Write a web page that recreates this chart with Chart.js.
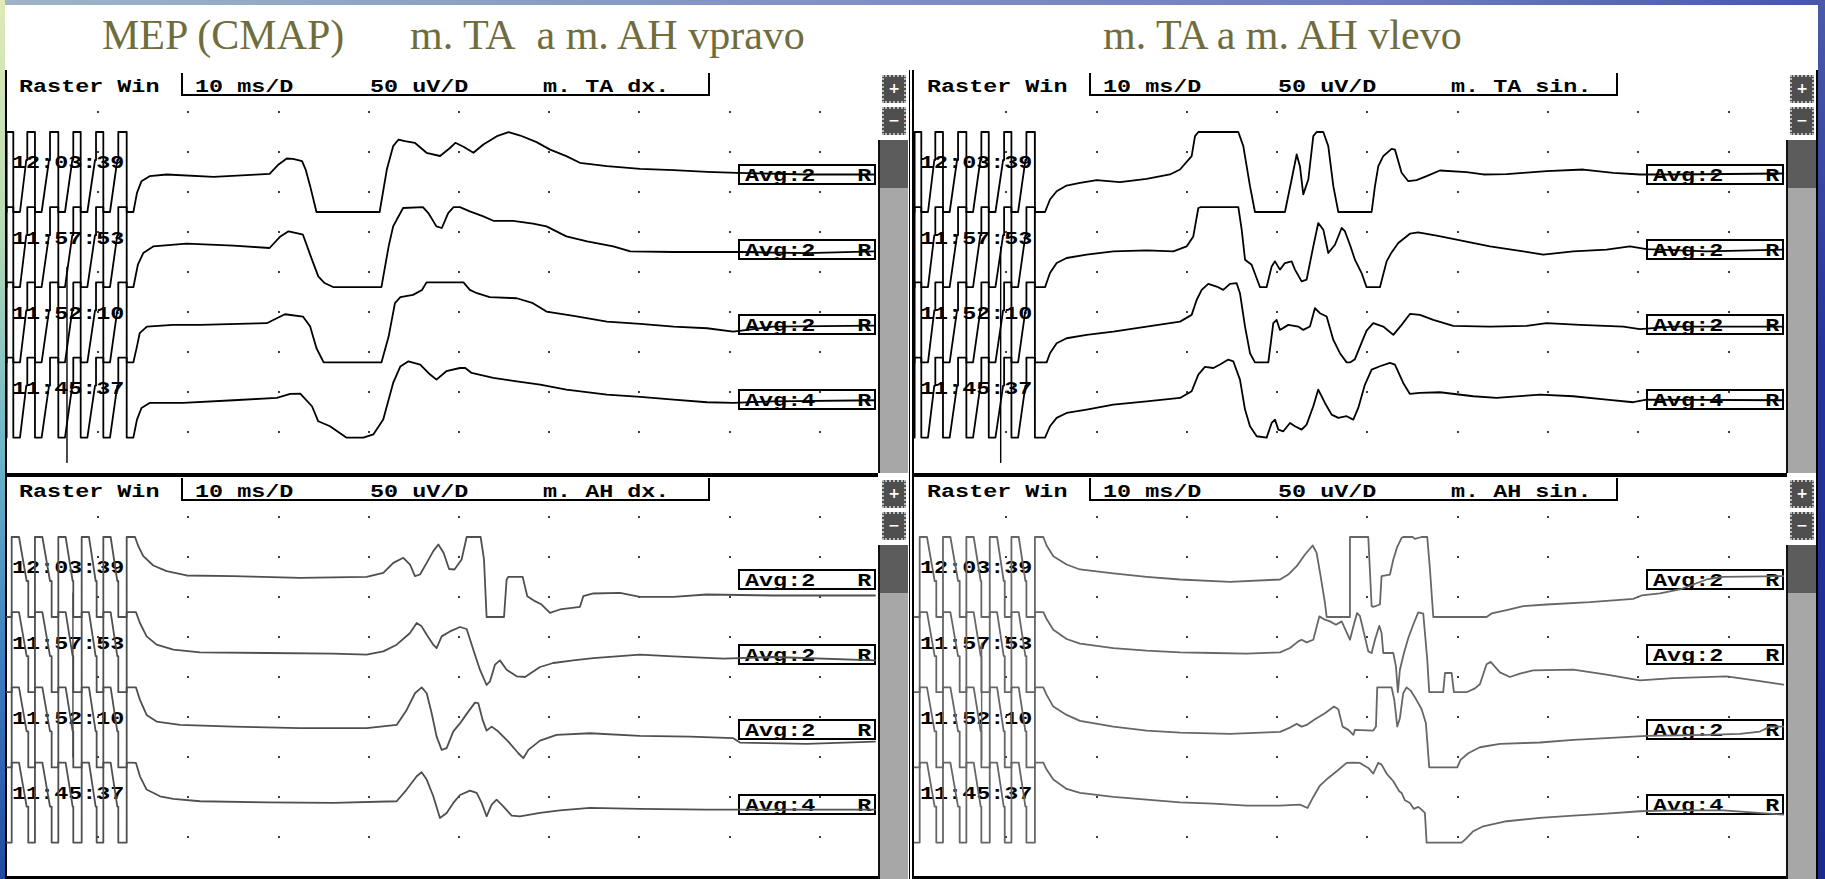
<!DOCTYPE html>
<html>
<head>
<meta charset="utf-8">
<title>MEP (CMAP) m. TA a m. AH</title>
<script src="https://cdn.jsdelivr.net/npm/chart.js@4.4.1/dist/chart.umd.min.js"></script>
<style>
  html, body { margin: 0; padding: 0; }
  body { width: 1825px; height: 879px; overflow: hidden; position: relative; background: #fff; }
  .abs { position: absolute; }
  .band-top { left: 0; top: 0; width: 1825px; height: 5px;
    background: linear-gradient(90deg, #9fb4c8 0%, #8394c4 40%, #6f7fbf 75%, #4657a8 100%); }
  .band-left { left: 0; top: 0; width: 5px; height: 879px;
    background: linear-gradient(180deg, #dfeab8 0%, #b9dcb4 25%, #6fb8c8 50%, #3d7fc0 75%, #1f4aa0 100%); }
  .band-right { left: 1818px; top: 0; width: 7px; height: 879px;
    background: linear-gradient(180deg, #4b5aa8 0%, #26339a 40%, #1c2a8e 100%); }
  .title { font-family: "Liberation Serif", "Times New Roman", serif; font-size: 42px; line-height: 42px;
    color: #6f6d3d; white-space: pre; }
  .mono { font-family: "Liberation Mono", "DejaVu Sans Mono", monospace; font-weight: bold; font-size: 18px;
    line-height: 18px; color: #000; white-space: pre; transform: scaleX(1.3); transform-origin: 0 0; }
  .hbox { box-sizing: border-box; border-left: 2px solid #000; border-right: 2px solid #000; border-bottom: 2px solid #000; }
  .avg { box-sizing: border-box; border: 2px solid #000; }
  .rule { background: #000; }
  .trough { box-sizing: border-box; background: #a7a7a7; border-left: 2px solid #111; }
  .thumb { background: #5c5c5c; }
  .btn { box-sizing: border-box; background: #4e4e4e; border: 2px dotted #b8b8b8; color: #fff;
    font-family: "DejaVu Sans", sans-serif; font-weight: bold; font-size: 14px; line-height: 22px; text-align: center; }
  canvas { position: absolute; }
</style>
</head>
<body>
<div class="abs band-top"></div>
<div class="abs band-left"></div>
<div class="abs band-right"></div>
<div id="stage"></div>

<script>
// ---- sweep settings and labels ----
const gridMs = [10, 20, 30, 40, 50, 60, 70, 80, 90];           // 10 ms per division
const gridUv = [50, 100, 150, 200, 250, 300, 350, 400, 450];   // 50 uV per division
const traceOffsets = [375, 281, 187, 93];                      // raster baseline of each sweep (uV)
const timestamps = ['12:03:39', '11:57:53', '11:52:10', '11:45:37'];
const averages = ['Avg:2   R', 'Avg:2   R', 'Avg:2   R', 'Avg:4   R'];
const sweepLabels = ['10 ms/D', '50 uV/D'];
const channels = ['m. TA dx.', 'm. TA sin.', 'm. AH dx.', 'm. AH sin.'];

// ---- stimulus artefact (ms, uV relative to sweep baseline) ----
const artifactTA = [[-0.22,-50],[-0.15,-50],[-0.15,50],[0.59,50],[0.59,-50],[1.33,-50],[2.03,15],[2.14,15],[2.14,50],[2.99,50],[2.99,-50],
  [3.73,-50],[4.55,15],[4.66,15],[4.66,50],[5.58,50],[5.58,-50],[6.32,-50],[7.13,15],[7.24,15],[7.24,50],[8.06,50],[8.06,-50],
  [8.8,-50],[9.65,15],[9.76,15],[9.76,50],[10.57,50],[10.57,-50],[11.31,-50],[12.12,15],[12.23,15],[12.23,50],[13.16,50],[13.16,-50]];
const artifactAH = [[-0.15,-50],[0.41,-50],[0.41,50],[1.22,50],[2.07,-5],[2.25,-5],[2.25,-50],[2.99,-50],[2.99,50],[3.81,50],[4.66,-5],
  [4.84,-5],[4.84,-50],[5.58,-50],[5.58,50],[6.39,50],[7.17,-5],[7.24,-5],[7.24,-50],[8.17,-50],[8.17,50],[8.98,50],[9.72,-5],[9.83,-5],
  [9.83,-50],[10.57,-50],[10.57,50],[11.38,50],[12.12,-5],[12.23,-5],[12.23,-50],[13.16,-50],[13.16,50]];

// ---- m. TA dx. responses ----
const taDx1 = [[13.34,-50],[13.9,-50],[14.3,-26],[14.8,-11.5],[15.7,-5.2],[17.6,-3.1],[22.8,-6],[29.0,-2.3],[30.0,9.4],[30.9,16.9],[31.6,16.5],
  [32.6,13.5],[33.0,3],[33.5,-17.7],[34.2,-50],[41.2,-50],[42.0,3],[42.7,32.3],[43.3,40.6],[44.0,38.5],[45.1,36.5],[46.4,24],[47.9,20],
  [49.0,30],[49.6,36.5],[50.5,31.5],[51.6,24],[52.7,34.4],[54.2,44.8],[55.5,49.8],[56.8,45.6],[58.6,37.3],[60.1,28],[61.9,19.8],[63.4,11.5],
  [66.4,7.3],[70.1,4],[73.8,2.3],[77.5,0.2],[80.8,-1],[88.5,-3.1],[96.1,-3.1]];
const taDx2 = [[13.34,-50],[13.9,-50],[14.4,-21.9],[15.0,-7.3],[16.1,1],[19.8,4.4],[25.0,1.9],[29.0,-1],[30.2,13.5],[31.1,19.8],[32.0,17.7],
  [32.7,15.6],[33.7,-15.6],[34.4,-36.5],[35.1,-44.8],[36.1,-50],[41.4,-50],[42.2,1],[42.7,26],[43.8,49],[46.0,50],[46.6,42.7],[47.5,26],
  [48.1,24],[48.8,42.7],[49.4,50],[50.1,50],[51.2,44.8],[52.7,38.5],[53.8,33],[56.0,33],[58.2,29.4],[59.7,26],[61.9,13.5],[64.2,7.3],
  [67.1,1],[69.0,-5.2],[73.8,-6],[81.2,-6],[88.5,-7.3],[96.1,-5.2]];
const taDx3 = [[13.34,-50],[13.9,-50],[14.3,-30],[14.6,-13.5],[15.4,-5.2],[18.3,-3.1],[21.3,-3.1],[28.7,-1],[29.8,5.2],[30.7,10.2],[32.7,7.3],
  [33.5,-5.2],[34.2,-32.3],[35.0,-50],[41.4,-50],[42.2,-17.7],[42.9,24],[43.5,31.5],[44.9,34.4],[45.9,40.6],[46.4,50],[50.5,50],[51.2,40.6],
  [52.0,36.5],[53.4,31.5],[56.4,30.2],[58.2,24],[59.7,13.5],[62.7,8.1],[66.4,1],[70.1,-1.9],[73.8,-5.2],[77.5,-7.3],[80.4,-11.5],
  [84.8,-5.2],[96.1,-4]];
const taDx4 = [[13.34,-50],[13.9,-50],[14.3,-27.5],[14.8,-13],[15.7,-6.7],[19.4,-6.7],[25.0,-3.3],[29.8,-0.4],[31.3,4.6],[32.4,5],[33.7,-10.8],
  [34.4,-29.6],[35.7,-35.8],[37.5,-50],[39.4,-50],[40.5,-46],[41.6,-27.5],[42.7,18.3],[43.5,39],[44.4,45.4],[45.7,41.3],[46.8,28.8],
  [47.5,22.5],[48.6,33],[50.1,37],[50.7,37],[51.4,30.8],[53.8,24.6],[56.4,20.4],[59.0,16.3],[61.9,10],[66.4,3.7],[70.1,0.8],[73.8,-2.5],
  [77.5,-5.8],[80.4,-6.7],[84.8,-4.6],[96.1,-3.3]];

// ---- m. TA sin. responses ----
const taSin1 = [[13.18,-50],[14.29,-50],[14.84,-34.4],[15.58,-24],[16.68,-16.9],[18.16,-13.5],[20.01,-10.2],[22.59,-12.7],[25.54,-8.5],
  [28.13,-3.1],[29.24,3.1],[30.53,19.8],[30.9,44.8],[31.27,50],[35.7,50],[36.25,32.3],[36.99,-17.7],[37.54,-50],[40.86,-50],[41.6,-9.4],
  [42.16,21.9],[42.52,7.3],[42.89,-28],[43.45,-9.4],[44.0,44.8],[44.37,50],[45.11,50],[45.66,32.3],[46.22,-17.7],[46.77,-50],[50.46,-50],
  [50.83,-17.7],[51.2,7.3],[51.75,19.8],[52.67,29],[53.04,28],[53.78,-1],[54.52,-11.5],[55.44,-10.2],[56.55,-5.2],[58.02,1.9],[60.98,-0.2],
  [62.82,-3.1],[65.41,-2.7],[69.84,1],[73.9,3.1],[77.22,-1],[80.17,-3.1],[83.87,-3.1],[96.05,-1.9]];
const taSin2 = [[13.18,-50],[14.29,-50],[14.84,-32.3],[15.58,-19.8],[16.68,-13.5],[18.9,-9.4],[21.85,-5.2],[25.54,-4],[28.5,-5.2],
  [29.97,1],[30.71,13.5],[31.27,49],[31.52,50],[35.7,50],[36.07,21.9],[36.44,-15.6],[37.17,-21.9],[38.1,-50],[38.83,-50],[39.39,-24],
  [39.76,-17.7],[40.31,-28],[40.86,-19.8],[41.6,-17.7],[41.97,-28],[42.71,-42.7],[43.26,-40.6],[44.0,1],[44.55,30.2],[45.11,21.9],
  [45.66,-7.3],[46.4,3.1],[47.14,24],[47.5,20],[48.06,3.1],[48.61,-15.6],[49.35,-32.3],[49.9,-50],[51.38,-50],[52.12,-17.7],[52.67,-6.5],
  [53.41,5.2],[54.7,16.9],[55.62,18.5],[57.66,14.4],[59.87,9.4],[63.56,1],[67.25,-5.2],[69.47,-9.4],[72.79,-5.2],[76.48,-3.1],[79.06,1],
  [80.91,-2.3],[87.56,-5.2],[96.05,-3.1]];
const taSin3 = [[13.18,-50],[14.47,-50],[14.84,-38.5],[15.58,-26],[16.68,-19.8],[18.9,-15.6],[21.85,-11.5],[25.54,-5.2],[29.24,1],
  [30.53,9.4],[31.08,28],[31.64,40.6],[32.37,48.1],[33.3,44.8],[34.03,40.6],[34.77,48.1],[35.51,49],[35.88,36.5],[36.44,-5.2],[36.99,-38.5],
  [37.54,-50],[39.02,-50],[39.57,-1],[39.94,3.1],[40.31,-9.4],[41.23,-3.1],[42.34,-5.2],[42.89,-9.4],[43.63,-5.2],[44.18,17.7],[44.74,11.5],
  [45.48,7.3],[46.22,-21.9],[46.95,-38.5],[47.69,-50],[48.06,-50],[48.61,-46],[49.17,-30.2],[49.9,-10.2],[50.64,-1],[51.75,-5.2],
  [52.86,-15.6],[53.78,-3.1],[54.7,10.6],[55.81,9.4],[57.29,3.1],[59.5,-4.4],[63.56,-5.2],[67.62,-4.4],[69.84,-1],[73.53,-3.1],
  [78.33,-5.2],[80.17,-8.5],[83.87,-5.2],[96.05,-5.2]];
const taSin4 = [[13.18,-50],[14.29,-50],[14.84,-35.8],[15.58,-25.4],[16.68,-19.2],[18.9,-15],[21.85,-8.8],[25.54,-4.6],[29.24,-0.4],
  [30.53,7.9],[31.27,28.8],[32.0,38.3],[32.93,37],[33.67,41.3],[34.59,47.5],[35.14,45.4],[35.88,22.5],[36.44,-15],[36.99,-35.8],
  [37.73,-48.3],[38.83,-50],[39.39,-31.7],[39.76,-27.5],[40.13,-40],[40.68,-42.1],[41.42,-31.7],[41.97,-35.8],[42.71,-40],[43.26,-33.8],
  [44.0,-10.8],[44.55,10],[45.29,-6.7],[46.03,-21.3],[46.77,-25.4],[47.69,-23.3],[48.43,-27.5],[48.98,-12.9],[49.72,16.3],[50.46,35],
  [51.38,39.2],[52.49,43.3],[53.04,41.3],[53.96,18.3],[54.7,4.6],[55.81,5.8],[58.02,6.7],[61.72,1.7],[64.3,-0.4],[69.1,3.7],[72.79,1.7],
  [76.48,-2.5],[79.43,-5.8],[80.91,-2.5],[96.05,-3.3]];

// ---- m. AH dx. responses ----
const ahDx1 = [[13.34,50],[14.08,50],[14.45,38.5],[15.0,26],[16.11,14.4],[17.59,7.3],[19.81,1.9],[24.98,1],[32.37,-1],[39.76,0.2],
  [41.61,5.2],[42.72,17.7],[43.83,24],[44.57,15.6],[45.12,1],[45.68,3.1],[46.42,17.7],[47.15,32.3],[47.71,40.6],[48.3,30],[48.9,10],
  [49.5,9.4],[50.29,21.9],[50.85,50],[52.4,50],[52.77,21.9],[53.06,-50],[54.99,-50],[55.28,-3.1],[55.47,0.2],[57.06,0.2],[57.57,-24],
  [58.42,-30.2],[59.16,-34.4],[60.08,-44.8],[61.19,-40.6],[63.41,-37.3],[63.78,-24],[64.89,-20.6],[67.85,-19.8],[70.06,-24.8],
  [73.76,-24.8],[77.45,-21.9],[84.85,-23.1],[96.12,-23.1]];
const ahDx2 = [[13.34,50],[14.19,50],[14.63,36.5],[15.37,19.8],[16.48,9.4],[18.33,3.1],[21.29,-0.2],[28.68,-1],[36.07,-1.9],[39.76,-3.1],
  [41.61,1],[43.09,9.4],[44.57,24],[45.31,36.5],[45.86,32.3],[46.42,21.9],[47.15,9.4],[47.52,5.2],[48.08,19.8],[49.0,26],[50.11,31.5],
  [50.85,29],[51.59,3.1],[52.32,-21.9],[53.06,-41],[53.43,-36.5],[53.99,-15.6],[54.54,-10.2],[55.28,-21.9],[56.39,-30.2],[57.32,-31],
  [58.98,-18.5],[60.45,-13.5],[62.67,-10.2],[64.89,-7.3],[70.06,-3.1],[73.76,-5.2],[79.3,-8.1],[84.85,-6],[96.12,-10.2]];
const ahDx3 = [[13.34,50],[14.19,50],[14.63,34.4],[15.37,15.6],[16.48,7.3],[19.07,3.1],[24.98,1],[32.37,-1],[39.76,-1],[43.09,3.1],
  [44.2,21.9],[45.12,42.7],[45.86,50],[46.42,42.7],[46.97,17.7],[47.52,-11.5],[48.08,-28.1],[48.63,-26],[49.37,-5],[50.11,5],
  [50.85,16.9],[51.77,31],[52.14,30.2],[52.62,9.4],[53.06,-4],[53.62,1],[54.36,-5.2],[55.47,-17.7],[56.58,-32.3],[57.13,-38.5],
  [57.69,-28.1],[58.98,-16.5],[60.82,-9.4],[64.52,-7.3],[70.06,-10.6],[75.61,-11.5],[80.41,-13.5],[81.15,-19],[88.54,-20.6],[96.12,-17.7]];
const ahDx4 = [[13.34,50],[14.19,49.6],[14.63,32.9],[15.37,16.3],[16.85,7.9],[18.33,4.6],[21.29,1.7],[28.68,0.4],[36.07,-0.4],[43.09,1.7],
  [44.2,16.3],[45.31,32.9],[45.86,37.9],[46.42,28.8],[47.15,7.9],[47.89,-19.2],[48.63,-12.9],[49.37,-0.4],[50.11,9.5],[51.22,15],
  [51.96,12.1],[52.51,-0.4],[53.06,-17.1],[53.62,-2.5],[54.17,3.7],[54.91,-4.6],[55.84,-16.3],[56.76,-17.1],[58.98,-12.9],[61.19,-9.6],
  [64.52,-6.7],[70.06,-7.9],[77.45,-8.8],[96.12,-8.8]];

// ---- m. AH sin. responses ----
const ahSin1 = [[13.18,50],[14.1,50],[14.47,39.4],[15.21,26],[16.68,15.6],[18.16,9.4],[21.85,4.4],[25.54,0.2],[29.24,-3.1],[34.77,-6],
  [40.31,-3.1],[41.23,3.1],[42.16,13.5],[43.08,28.1],[43.93,39.4],[44.37,30.2],[44.81,1],[45.29,-32.3],[45.48,-50],[47.99,-50],[48.06,50],
  [50.09,50],[50.46,-36.5],[50.64,-37.3],[51.38,-34.4],[51.56,1],[52.49,3.1],[52.86,21.9],[53.3,37.7],[53.78,49],[53.96,50],[55.0,50],
  [55.26,47.7],[55.99,50],[56.62,50],[56.92,9.4],[57.29,-50],[63.19,-50],[63.75,-45.6],[65.41,-41.5],[67.25,-36.5],[69.84,-34.4],
  [74.64,-31.5],[79.43,-27.3],[80.36,-23.1],[82.39,-20.6],[84.6,-15.6],[86.08,-9.4],[87.56,-3.1],[89.4,0.2],[96.05,1]];
const ahSin2 = [[13.18,50],[14.1,50],[14.47,41.5],[15.21,28.1],[16.68,16.5],[18.16,10.6],[21.85,5.2],[25.54,1.9],[29.24,-0.2],[32.93,-1],
  [36.62,-1.9],[40.31,-0.2],[41.42,5.2],[42.34,13.5],[42.71,15.6],[43.26,12.3],[44.0,15.6],[44.67,44.8],[45.29,40.6],[45.85,38.5],
  [46.51,34.4],[47.14,38.5],[48.06,15.6],[48.5,35],[48.85,49],[49.17,45],[49.35,36.5],[50.09,1],[50.46,-1],[50.83,15.6],[51.31,33],
  [51.56,24],[51.75,-1],[52.86,-1],[53.15,-17.7],[53.37,-50],[53.59,-21.9],[54.04,-1],[54.52,17.7],[55.14,36.5],[55.62,49.8],[56.18,48.1],
  [56.62,-9.4],[56.84,-50],[58.39,-50],[58.58,-26],[59.32,-26],[59.57,-50],[60.98,-50],[61.9,-45.2],[62.45,-40],[63.19,-15],[63.64,-12.1],
  [64.67,-25.2],[65.78,-31],[66.88,-26.9],[68.36,-22.7],[72.79,-21.9],[76.48,-28.1],[80.17,-35.2],[83.87,-32.3],[89.77,-30.2],
  [93.09,-35.6],[96.05,-40.6]];
const ahSin3 = [[13.18,50],[14.1,50],[14.47,40.6],[15.21,26],[16.68,15.6],[18.16,8.1],[21.85,1],[25.54,-4],[29.24,-6.5],[34.77,-8.1],
  [40.31,-5.6],[41.42,-0.2],[42.16,4.4],[42.71,1],[43.26,3.1],[44.18,10.2],[45.29,17.7],[46.29,26],[46.77,22.7],[47.25,1],[47.88,-3.1],
  [48.43,-9.4],[48.61,-3.1],[50.64,-4],[50.94,1],[51.08,50],[52.67,50],[52.97,34.4],[53.3,1],[53.59,11.5],[53.96,42.7],[54.33,50],
  [54.78,46],[55.37,35.4],[55.99,23],[56.47,5.2],[56.84,-50],[59.94,-50],[60.31,-40.6],[61.16,-32.3],[62.45,-24.8],[64.67,-20.6],
  [69.1,-18.9],[72.79,-15.6],[76.48,-13.5],[80.91,-10.6],[87.56,-9.4],[91.25,-8.1],[93.46,-5.2],[94.57,1],[96.05,1]];
const ahSin4 = [[13.18,50],[14.1,50],[14.47,41.3],[15.21,28.8],[16.68,17.1],[18.16,12.1],[21.85,7.1],[25.54,3.7],[29.24,0.4],[32.93,-1.3],
  [36.62,-3.8],[40.31,-3.8],[42.52,-2.5],[43.37,-6.7],[44.0,7.1],[44.74,21.3],[45.66,30.8],[46.59,39.2],[47.69,49.6],[48.43,50],
  [49.17,49.6],[50.09,43.3],[50.64,36.3],[51.19,49.6],[51.56,47.5],[52.12,36.3],[52.86,26.7],[53.52,14.2],[53.78,12.1],[54.15,2.9],
  [54.7,-0.4],[55.14,-7.9],[55.62,-5.4],[55.99,-8.8],[56.36,-12.9],[56.55,-50],[60.42,-50],[60.9,-45.4],[61.72,-35.8],[62.82,-29.6],
  [65.41,-23.3],[69.1,-19.2],[72.79,-16.3],[76.48,-13.8],[80.17,-10.8],[83.87,-9.6],[89.4,-9.6],[96.05,-15]];

// ---- cursor marks (ms, absolute raster uV) ----
const cursorTaDx = [[6.54, 256], [6.54, 12]];
const cursorTaSin = [[9.38, 281], [9.38, 12]];
const cursorAhDx = [[7.2, 355], [7.2, 150]];
const cursorAhSin = [[7.27, 292], [7.27, 146]];

// ---- window layout ----
const panels = [
  { left: 6,   top: 72,  width: 870, origin: 8,   xMin: -0.22, xMax: 96.23, channel: channels[0], artifact: artifactTA,
    traces: [taDx1, taDx2, taDx3, taDx4], cursor: cursorTaDx, color: '#000000' },
  { left: 913, top: 72,  width: 874, origin: 916, xMin: -0.33, xMax: 96.46, channel: channels[1], artifact: artifactTA,
    traces: [taSin1, taSin2, taSin3, taSin4], cursor: cursorTaSin, color: '#000000' },
  { left: 6,   top: 477, width: 870, origin: 8,   xMin: -0.22, xMax: 96.23, channel: channels[2], artifact: artifactAH,
    traces: [ahDx1, ahDx2, ahDx3, ahDx4], cursor: cursorAhDx, color: '#4f4f4f' },
  { left: 913, top: 477, width: 874, origin: 916, xMin: -0.33, xMax: 96.46, channel: channels[3], artifact: artifactAH,
    traces: [ahSin1, ahSin2, ahSin3, ahSin4], cursor: cursorAhSin, color: '#666666' }
];
const PANEL_H = 400;

const stage = document.getElementById('stage');
function el(cls, x, y, w, h, text) {
  const d = document.createElement('div');
  d.className = 'abs ' + cls;
  d.style.left = x + 'px'; d.style.top = y + 'px';
  if (w != null) d.style.width = w + 'px';
  if (h != null) d.style.height = h + 'px';
  if (text != null) d.textContent = text;
  stage.appendChild(d);
  return d;
}
// mono text positioned by its baseline
function monoText(x, baseline, text) { return el('mono', x, baseline - 14, null, null, text); }

// slide titles
el('title', 102, 14, null, null, 'MEP (CMAP)');
el('title', 410, 14, null, null, 'm. TA\u00a0\u00a0a m. AH vpravo');
el('title', 1103, 14, null, null, 'm. TA a m. AH vlevo');

// window frames
el('rule', 5, 70, 2, 809);
el('rule', 909, 70, 1, 809);
el('rule', 912, 70, 2, 809);
el('rule', 1816, 70, 2, 809);
el('rule', 6, 473, 872, 4);
el('rule', 913, 473, 874, 4);
el('rule', 6, 876, 872, 3);
el('rule', 913, 876, 874, 3);

// dotted raster drawn at the scale divisions
const dotGrid = {
  id: 'dotGrid',
  beforeDatasetsDraw(chart) {
    const { ctx, scales: { x, y } } = chart;
    ctx.save();
    ctx.fillStyle = '#3c3c3c';
    for (const t of gridMs) {
      for (const v of gridUv) {
        ctx.fillRect(Math.round(x.getPixelForValue(t)) - 1, Math.round(y.getPixelForValue(v)) - 1, 2, 2);
      }
    }
    ctx.restore();
  }
};

panels.forEach((p, i) => {
  const o = p.origin, t = p.top;
  // header strip
  monoText(o + 11, t + 20, 'Raster Win');
  el('hbox', o + 173, t + 1, 529, 23);
  monoText(o + 187, t + 20, sweepLabels[0]);
  monoText(o + 362, t + 20, sweepLabels[1]);
  monoText(o + 535, t + 20, p.channel);
  // sweep labels
  const stampBase = [96, 172, 247, 322];
  const avgTop = [92, 167, 242, 317];
  for (let k = 0; k < 4; k++) {
    monoText(o + 4, t + stampBase[k], timestamps[k]);
    el('avg', o + 730, t + avgTop[k], 138, 21);
    monoText(o + 737, t + avgTop[k] + 17, averages[k]);
  }
  // scroll bar
  el('btn', o + 874, t + 3, 24, 28, '+');
  el('btn', o + 874, t + 35, 24, 28, '\u2212');
  el('trough', o + 870, t + 68, 30, 333 + (i < 2 ? 0 : 1));
  el('thumb', o + 872, t + 68, 28, 48);

  // trace canvas
  const cv = document.createElement('canvas');
  cv.width = p.width; cv.height = PANEL_H;
  cv.style.left = p.left + 'px'; cv.style.top = t + 'px';
  stage.appendChild(cv);

  const toPts = (arr, off) => arr.map(([ms, uv]) => ({ x: ms, y: uv + off }));
  const datasets = [{
    data: toPts(p.cursor, 0), borderColor: p.color, borderWidth: 1.4, pointRadius: 0
  }];
  p.traces.forEach((tr, k) => {
    datasets.push({
      data: toPts(p.artifact.concat(tr), traceOffsets[k]),
      borderColor: p.color, borderWidth: 1.8, pointRadius: 0, tension: 0, fill: false
    });
  });

  new Chart(cv.getContext('2d'), {
    type: 'line',
    data: { datasets },
    options: {
      responsive: false, animation: false, devicePixelRatio: 1, events: [],
      layout: { padding: 0 },
      plugins: { legend: { display: false }, tooltip: { enabled: false } },
      scales: {
        x: { type: 'linear', min: p.xMin, max: p.xMax, display: false },
        y: { type: 'linear', min: 0, max: 500, display: false }
      },
      elements: { line: { borderJoinStyle: 'round', borderCapStyle: 'round' }, point: { radius: 0 } }
    },
    plugins: [dotGrid]
  });
});
</script>
</body>
</html>
